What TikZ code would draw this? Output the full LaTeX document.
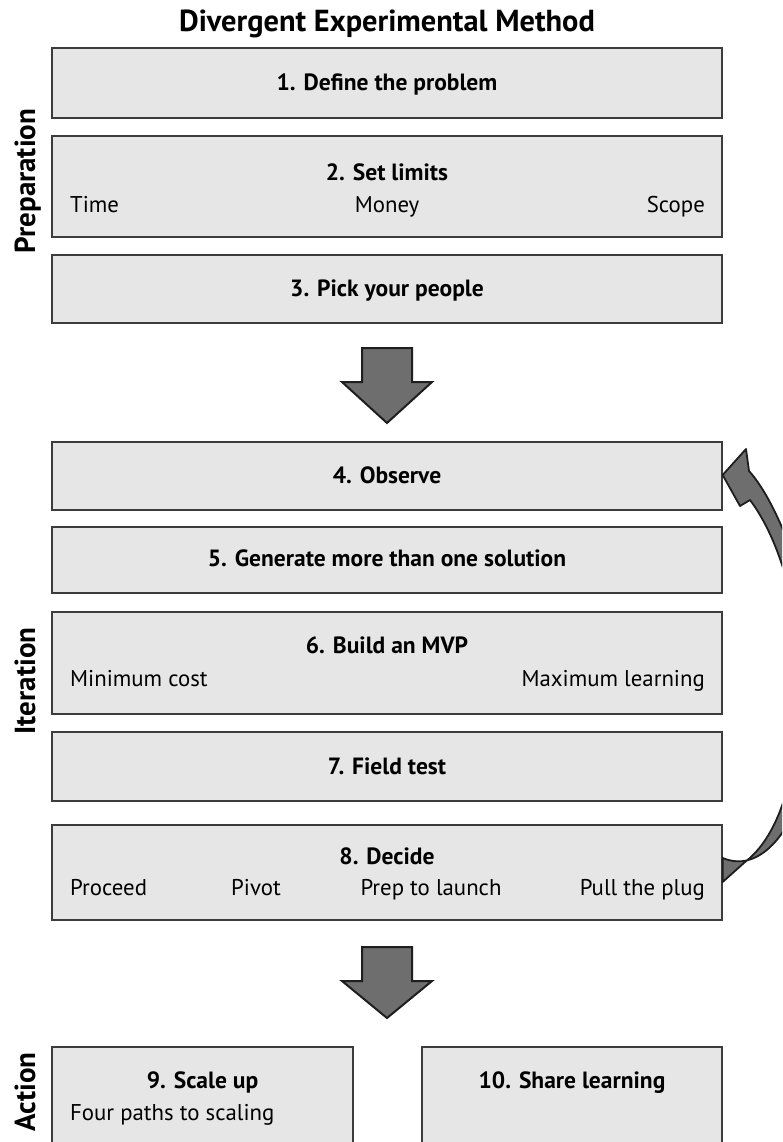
\documentclass[tikz,border=0pt]{standalone}
\usepackage{fontspec}
\setmainfont{PT Sans}
\begin{document}
\begin{tikzpicture}[x=1pt,y=-1pt,
  box/.style={draw=boxline, fill=boxfill, line width=1.3pt, inner sep=0pt},
  head/.style={font=\fontsize{23.5}{27}\selectfont\bfseries, anchor=base, inner sep=0pt},
  item/.style={font=\fontsize{22.8}{26}\selectfont, anchor=base, inner sep=0pt},
  side/.style={font=\fontsize{29}{33}\selectfont\bfseries, rotate=90, anchor=base, inner sep=0pt},
  blockarrow/.style={fill=arrowfill, draw=arrowline, line width=2pt, line join=miter}]
\definecolor{boxfill}{HTML}{E6E6E6}
\definecolor{boxline}{HTML}{3C3C3C}
\definecolor{arrowfill}{HTML}{6E6E6E}
\definecolor{arrowline}{HTML}{1E1E1E}
\clip (0,0) rectangle (782,1142);
\fill[white] (0,0) rectangle (782,1142);

% title
\node[font=\fontsize{30.4}{34}\selectfont\bfseries, anchor=base, inner sep=0pt] (title) at (387,32) {Divergent Experimental Method};

% stage boxes
\node[box, minimum width=670, minimum height=70] (b1) at (387,83) {};
\node[box, minimum width=670, minimum height=101] (b2) at (387,186.5) {};
\node[box, minimum width=670, minimum height=68] (b3) at (387,289) {};
\node[box, minimum width=670, minimum height=68] (b4) at (387,476) {};
\node[box, minimum width=670, minimum height=66] (b5) at (387,560) {};
\node[box, minimum width=670, minimum height=102] (b6) at (387,663) {};
\node[box, minimum width=670, minimum height=69] (b7) at (387,766.5) {};
\node[box, minimum width=670, minimum height=95] (b8) at (387,872.5) {};
\node[box, minimum width=301, minimum height=113] (b9) at (202.5,1103.5) {};
\node[box, minimum width=300, minimum height=113] (b10) at (572,1103.5) {};

% box texts
\node[head] (t1) at (387,90.5) {1. Define the problem};
\node[head] (t2) at (387,180) {2. Set limits};
\node[item, anchor=base west] (t2a) at (70,212) {Time};
\node[item] (t2b) at (387,212) {Money};
\node[item, anchor=base east] (t2c) at (705,212) {Scope};
\node[head] (t3) at (387,296.5) {3. Pick your people};
\node[head] (t4) at (387,483.5) {4. Observe};
\node[head] (t5) at (387,566.5) {5. Generate more than one solution};
\node[head] (t6) at (387,653.5) {6. Build an MVP};
\node[item, anchor=base west] (t6a) at (70,686.5) {Minimum cost};
\node[item, anchor=base east] (t6b) at (705,686.5) {Maximum learning};
\node[head] (t7) at (387,774) {7. Field test};
\node[head] (t8) at (387,864.5) {8. Decide};
\node[item, anchor=base west] (t8a) at (70,895.5) {Proceed};
\node[item] (t8b) at (256,895.5) {Pivot};
\node[item] (t8c) at (431,895.5) {Prep to launch};
\node[item, anchor=base east] (t8d) at (705,895.5) {Pull the plug};
\node[head] (t9) at (202.5,1088.5) {9. Scale up};
\node[item, anchor=base west] (t9a) at (70,1120.5) {Four paths to scaling};
\node[head] (t10) at (572,1088.5) {10. Share learning};

% phase labels
\node[side] (p1) at (35,181) {Preparation};
\node[side] (p2) at (35,681) {Iteration};
\node[side] (p3) at (35,1092) {Action};

% down arrows between phases
\draw[blockarrow] (362,348) -- (412,348) -- (412,382) -- (432,382) -- (387,423)
  -- (342,382) -- (362,382) -- cycle;
\draw[blockarrow] (362,947) -- (412,947) -- (412,981) -- (432,981) -- (387,1018)
  -- (342,981) -- (362,981) -- cycle;

% loop-back arrow from Decide to Observe
\coordinate (root) at (b8.east);
\coordinate (tip) at (b4.east);
\draw[blockarrow, line width=1.8pt, line join=round]
  ([yshift=-9.5pt]root) -- (745,862)
  .. controls (787,830) and (800,750) .. (800,680)
  .. controls (800,610) and (780,540) .. (750,500)
  -- (740,506) -- ([yshift=1pt]tip) -- (746,449) -- (749,471)
  .. controls (780,505) and (814,600) .. (820,680)
  .. controls (820,790) and (775,880) .. ([yshift=14.5pt]root) -- cycle;
\end{tikzpicture}
\end{document}
